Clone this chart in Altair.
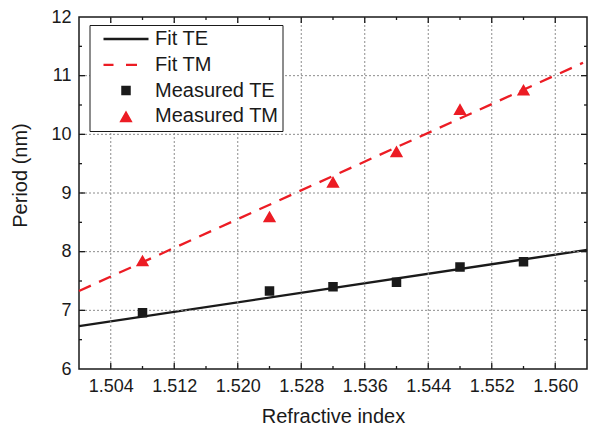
import altair as alt
import pandas as pd

# ---------------- data ----------------
x_measured = [1.508, 1.524, 1.532, 1.540, 1.548, 1.556]
te_measured = [6.96, 7.33, 7.40, 7.48, 7.74, 7.83]
tm_measured = [7.85, 8.60, 9.19, 9.71, 10.43, 10.76]

fit_te_x = [1.500, 1.564]
fit_te_y = [6.73, 8.03]
fit_tm_x = [1.500, 1.5635]
fit_tm_y = [7.33, 11.22]

series_names = ["Fit TE", "Fit TM", "Measured TE", "Measured TM"]

x_major = [1.504, 1.512, 1.520, 1.528, 1.536, 1.544, 1.552, 1.560]
x_minor = [1.508, 1.516, 1.524, 1.532, 1.540, 1.548, 1.556]
y_labels = [6, 7, 8, 9, 10, 11, 12]
y_major = [7, 8, 9, 10, 11]
y_minor = [6.5, 7.5, 8.5, 9.5, 10.5, 11.5]

# ---------------- styles ----------------
W, H = 508, 352
BLACK = "#1a1a1a"
RED = "#ec1c24"
FONT = "Liberation Sans"
series_colors = [BLACK, RED, BLACK, RED]
SPAN = "M-4.5,0H4.5Z "  # zero-area span so every symbol has the same width bounds
series_shapes = [
    SPAN + "M-4.5,-0.23H4.5V0.23H-4.5Z",
    SPAN + "M-4.5,-0.23H-2.5V0.23H-4.5Z M0,-0.23H2.2V0.23H0Z",
    SPAN + "M-0.95,-0.95H0.95V0.95H-0.95Z",
    SPAN + "M0,-1.16L1.33,1.16L-1.33,1.16Z",
]

xs = alt.Scale(domain=[1.500, 1.564], nice=False, zero=False)
ys = alt.Scale(domain=[6, 12], nice=False, zero=False)
color_scale = alt.Scale(domain=series_names, range=series_colors)

fit_te_df = pd.DataFrame({"x": fit_te_x, "y": fit_te_y})
fit_tm_df = pd.DataFrame({"x": fit_tm_x, "y": fit_tm_y})
pts_df = pd.DataFrame({
    "x": x_measured + x_measured,
    "y": te_measured + tm_measured,
    "series": ["Measured TE"] * len(x_measured) + ["Measured TM"] * len(x_measured),
})

x_axis = alt.Axis(
    values=x_major, format=".3f", ticks=False, domain=False, grid=False,
    labelFontSize=18, labelFont=FONT, labelColor=BLACK, labelPadding=8,
    title="Refractive index", titleFontSize=20, titleFont=FONT,
    titleFontWeight="normal", titleColor=BLACK, titlePadding=11)
y_axis = alt.Axis(
    values=y_labels, format="d", ticks=False, domain=False, grid=False,
    labelFontSize=18, labelFont=FONT, labelColor=BLACK, labelPadding=8,
    title="Period (nm)", titleFontSize=20, titleFont=FONT,
    titleFontWeight="normal", titleColor=BLACK, titlePadding=20, titleY=158)

legend = alt.Legend(
    title=None, orient="none", legendX=10.5, legendY=8,
    strokeColor=BLACK, fillColor="white", padding=4, cornerRadius=0,
    symbolSize=100, symbolStrokeWidth=0, symbolOffset=22.5,
    labelOffset=19, labelFontSize=20, labelFont=FONT, labelColor=BLACK,
    rowPadding=5.8, labelExpr="datum.label + '\u00a0'",
)

fit_te = alt.Chart(fit_te_df).mark_line(strokeWidth=2.3, color=BLACK).encode(
    x=alt.X("x:Q", scale=xs, axis=x_axis),
    y=alt.Y("y:Q", scale=ys, axis=y_axis),
)
fit_tm = alt.Chart(fit_tm_df).mark_line(strokeWidth=2.3, color=RED, strokeDash=[13, 9]).encode(
    x=alt.X("x:Q", scale=xs),
    y=alt.Y("y:Q", scale=ys),
)

points = alt.Chart(pts_df).mark_point(filled=True, size=100, opacity=1, strokeWidth=0).encode(
    x=alt.X("x:Q", scale=xs),
    y=alt.Y("y:Q", scale=ys),
    color=alt.Color("series:N", scale=color_scale, legend=legend),
    shape=alt.Shape("series:N", scale=alt.Scale(domain=series_names, range=series_shapes), legend=legend),
)

xgrid = alt.Chart(pd.DataFrame({"v": x_major})).mark_rule(
    color="#8c8c8c", strokeDash=[2, 2], strokeWidth=1
).encode(x=alt.X("v:Q", scale=xs))
ygrid = alt.Chart(pd.DataFrame({"v": y_major})).mark_rule(
    color="#8c8c8c", strokeDash=[2, 2], strokeWidth=1
).encode(y=alt.Y("v:Q", scale=ys))

def xticks(vals, length):
    base = alt.Chart(pd.DataFrame({"v": vals})).mark_rule(color=BLACK, strokeWidth=1.3)
    bottom = base.encode(x=alt.X("v:Q", scale=xs), y=alt.value(H), y2=alt.value(H - length))
    top = base.encode(x=alt.X("v:Q", scale=xs), y=alt.value(0), y2=alt.value(length))
    return [bottom, top]

def yticks(vals, length):
    base = alt.Chart(pd.DataFrame({"v": vals})).mark_rule(color=BLACK, strokeWidth=1.3)
    left = base.encode(y=alt.Y("v:Q", scale=ys), x=alt.value(0), x2=alt.value(length))
    right = base.encode(y=alt.Y("v:Q", scale=ys), x=alt.value(W), x2=alt.value(W - length))
    return [left, right]

layers = ([fit_te, xgrid, ygrid] + xticks(x_major, 6) + xticks(x_minor, 3)
          + yticks(y_major, 6) + yticks(y_minor, 3) + [fit_tm, points])

chart = alt.layer(*layers).properties(
    width=W, height=H,
    autosize=alt.AutoSizeParams(type="none"),
    padding={"left": 71, "top": 9, "right": 1, "bottom": 58},
    background="white",
).configure(font=FONT).configure_view(stroke=BLACK, strokeWidth=1.5)

chart.save("out.html", embed_options={"renderer": "svg", "actions": False})
